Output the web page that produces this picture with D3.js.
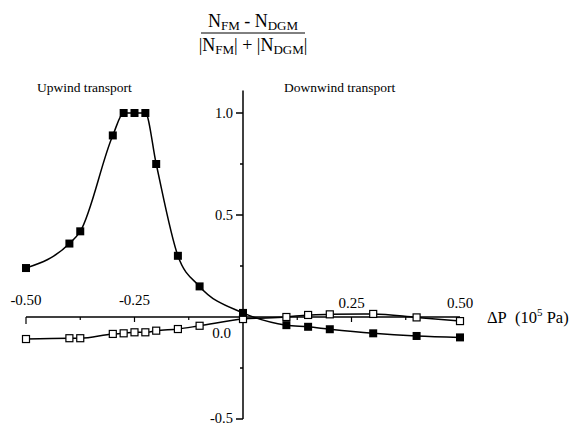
<!DOCTYPE html>
<html>
<head>
<meta charset="utf-8">
<script src="https://cdn.jsdelivr.net/npm/d3@7"></script>
<style>
body { margin: 0; background: #fff; }
text { font-family: "Liberation Serif", "DejaVu Serif", serif; fill: #000; }
</style>
</head>
<body>
<svg id="chart" width="587" height="425"></svg>
<script>
// pressure difference (10^5 Pa)
var dp = [-0.5, -0.4, -0.375, -0.3, -0.275, -0.25, -0.225, -0.2, -0.15, -0.1, 0, 0.1, 0.15, 0.2, 0.3, 0.4, 0.5];
// filled squares
var filled = [0.24, 0.36, 0.42, 0.89, 1.0, 1.0, 1.0, 0.75, 0.30, 0.15, 0.02, -0.04, -0.048, -0.06, -0.08, -0.093, -0.10];
// open squares
var open = [-0.108, -0.104, -0.104, -0.083, -0.08, -0.075, -0.075, -0.067, -0.059, -0.043, -0.01, 0.0, 0.01, 0.013, 0.015, -0.002, -0.02];

var x_ticks = [-0.5, -0.375, -0.25, -0.125, 0.125, 0.25, 0.375, 0.5];
var x_labels = [[-0.5, "-0.50"], [-0.25, "-0.25"], [0.25, "0.25"], [0.5, "0.50"]];
var y_ticks = [-0.5, -0.25, 0.25, 0.5, 0.75, 1.0];
var y_labels = [[-0.5, "-0.5"], [0.5, "0.5"], [1.0, "1.0"]];

var svg = d3.select("#chart");

var x = d3.scaleLinear().domain([-0.5, 0.5]).range([26, 460]);
var y = d3.scaleLinear().domain([-0.5, 1.0]).range([419, 113]);

// axes
svg.append("line")
    .attr("x1", x(-0.5)).attr("x2", x(0.5))
    .attr("y1", y(0)).attr("y2", y(0))
    .attr("stroke", "#000").attr("stroke-width", 1.5);
svg.append("line")
    .attr("x1", x(0)).attr("x2", x(0))
    .attr("y1", y(1.11)).attr("y2", y(-0.5))
    .attr("stroke", "#000").attr("stroke-width", 1.5);

svg.selectAll(".xtick")
    .data(x_ticks)
    .enter()
    .append("line")
    .attr("class", "xtick")
    .attr("x1", d => x(d)).attr("x2", d => x(d))
    .attr("y1", y(0))
    .attr("y2", d => y(0) + (Math.abs(d) == 0.5 ? 7 : (Math.abs(d) == 0.25 ? 5 : 3)))
    .attr("stroke", "#000").attr("stroke-width", 1.2);

svg.selectAll(".ytick")
    .data(y_ticks)
    .enter()
    .append("line")
    .attr("class", "ytick")
    .attr("x1", x(0))
    .attr("x2", d => x(0) - (d == 0.25 || d == 0.75 || d == -0.25 ? 3 : 7))
    .attr("y1", d => y(d)).attr("y2", d => y(d))
    .attr("stroke", "#000").attr("stroke-width", 1.5);

svg.selectAll(".xlab")
    .data(x_labels)
    .enter()
    .append("text")
    .attr("class", "xlab")
    .attr("x", d => x(d[0]))
    .attr("y", d => d[0] < 0 ? y(0) - 12 : y(0) - 9)
    .attr("text-anchor", "middle")
    .attr("font-size", 15)
    .text(d => d[1]);

svg.append("text")
    .attr("x", x(0) - 12).attr("y", y(0) + 21)
    .attr("text-anchor", "end")
    .attr("font-size", 15)
    .text("0.0");

svg.selectAll(".ylab")
    .data(y_labels)
    .enter()
    .append("text")
    .attr("class", "ylab")
    .attr("x", x(0) - 10)
    .attr("y", d => d[0] < 0 ? y(d[0]) + 4 : y(d[0]) + 5)
    .attr("text-anchor", "end")
    .attr("font-size", 14.5)
    .text(d => d[1]);

// x axis label
var xl = svg.append("text").attr("x", 487).attr("y", y(0) + 6).attr("font-size", 16.5);
xl.append("tspan").text("\u0394P\u00a0\u00a0(10");
xl.append("tspan").attr("font-size", 11).attr("dy", -7).text("5");
xl.append("tspan").attr("dy", 7).text("\u00a0Pa)");

svg.append("text").attr("x", 37).attr("y", 92).attr("font-size", 13.5).text("Upwind transport");
svg.append("text").attr("x", 284).attr("y", 92).attr("font-size", 13.5).text("Downwind transport");

// title fraction
var num = svg.append("text").attr("x", 253).attr("y", 27).attr("text-anchor", "middle").attr("font-size", 18);
num.append("tspan").text("N");
num.append("tspan").attr("font-size", 13).attr("dy", 3).text("FM");
num.append("tspan").attr("dy", -3).text(" - N");
num.append("tspan").attr("font-size", 13).attr("dy", 3).text("DGM");
svg.append("line")
    .attr("x1", 201).attr("x2", 305).attr("y1", 33).attr("y2", 33)
    .attr("stroke", "#000").attr("stroke-width", 1);
var den = svg.append("text").attr("x", 253).attr("y", 51).attr("text-anchor", "middle").attr("font-size", 18);
den.append("tspan").text("|N");
den.append("tspan").attr("font-size", 13).attr("dy", 3).text("FM");
den.append("tspan").attr("dy", -3).text("| + |N");
den.append("tspan").attr("font-size", 13).attr("dy", 3).text("DGM");
den.append("tspan").attr("dy", -3).text("|");

// curves
var line = d3.line()
    .x((d, i) => x(dp[i]))
    .y(d => y(d))
    .curve(d3.curveMonotoneX);

svg.append("path").datum(open)
    .attr("d", line).attr("fill", "none")
    .attr("stroke", "#000").attr("stroke-width", 1.5);
svg.append("path").datum(filled)
    .attr("d", line).attr("fill", "none")
    .attr("stroke", "#000").attr("stroke-width", 1.5);

svg.selectAll(".open_pt")
    .data(open)
    .enter()
    .append("rect")
    .attr("class", "open_pt")
    .attr("x", (d, i) => x(dp[i]) - 3.5)
    .attr("y", d => y(d) - 3.5)
    .attr("width", 7).attr("height", 7)
    .attr("fill", "#fff").attr("stroke", "#000").attr("stroke-width", 1.2);

svg.selectAll(".filled_pt")
    .data(filled)
    .enter()
    .append("rect")
    .attr("class", "filled_pt")
    .attr("x", (d, i) => x(dp[i]) - 4)
    .attr("y", d => y(d) - 4)
    .attr("width", 8).attr("height", 8)
    .attr("fill", "#000");
</script>
</body>
</html>
